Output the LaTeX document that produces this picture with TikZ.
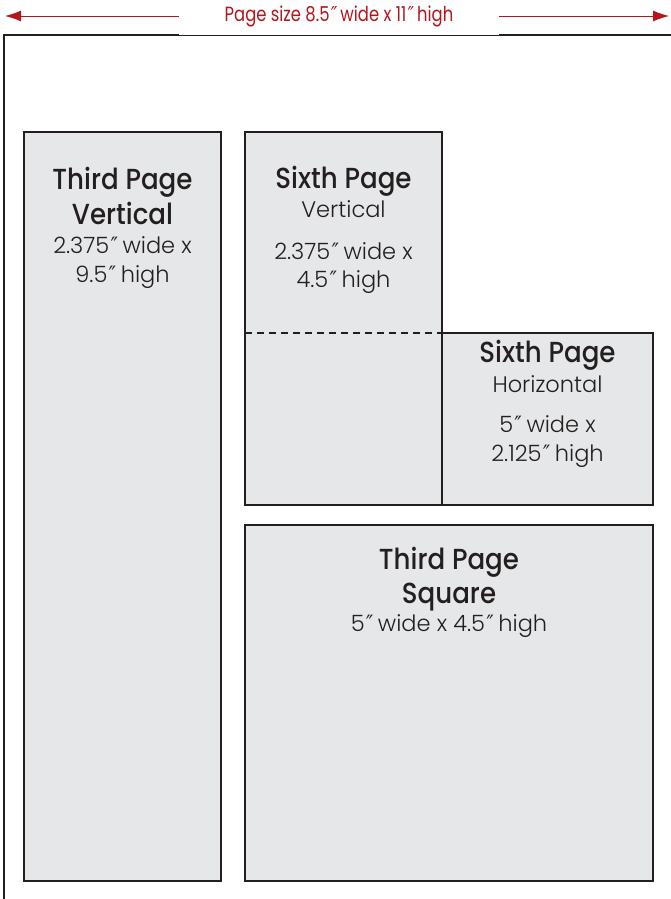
\documentclass[tikz,border=0pt]{standalone}
\usepackage{fontspec}
\setmainfont{Poppins}[UprightFont={* Light}]
\newfontfamily\titlefont{Poppins}[UprightFont={* Medium},FakeStretch=0.9]
\newfontfamily\sizefont{Poppins}[FakeStretch=0.8]
\newfontfamily\primefont{DejaVu Sans}[FakeStretch=0.85]
\newcommand{\inch}{{\primefont\addfontfeature{FakeSlant=0.1}″}}
\usetikzlibrary{arrows.meta}
\definecolor{sizered}{HTML}{B3161E}
\definecolor{adgray}{HTML}{E6E7E8}
\definecolor{adline}{HTML}{231F20}
\tikzset{
  adbox/.style={draw=adline,fill=adgray,line width=2pt},
  adtitle/.style={font=\titlefont\fontsize{29}{29}\selectfont,text=adline,inner sep=0pt,anchor=base},
  adtext/.style={font=\fontsize{22.5}{22.5}\selectfont,text=adline,inner sep=0pt,anchor=base},
  sizearrow/.style={draw=sizered,line width=0.9pt,-{Latex[length=16pt,width=11pt]}}
}
\begin{document}
\begin{tikzpicture}[x=1pt,y=-1pt]
\useasboundingbox (0,0) rectangle (670,899);
% page outline and size label
\draw[adline,line width=2.6pt] (4,905) -- (4,35) -- (675,35);
\node[fill=white,text=sizered,font=\sizefont\fontsize{20.5}{20.5}\selectfont,minimum width=320pt,minimum height=38pt,inner sep=0pt] (pagesize) at (339,16) {Page size 8.5\inch{} wide x 11\inch{} high};
\coordinate (pageleft) at (5,16);
\coordinate (pageright) at (669,16);
\draw[sizearrow] (pagesize.west) -- (pageleft);
\draw[sizearrow] (pagesize.east) -- (pageright);
% ad boxes
\draw[adbox] (24,132) rectangle (221,881);
\draw[adbox] (245,132) rectangle (442,505);
\draw[adbox] (442,333) rectangle (653,505);
\draw[adline,line width=2pt,dash pattern=on 7pt off 5pt] (245,333) -- (442,333);
\draw[adbox] (245,525) rectangle (653,881);
% third page vertical
\foreach \y/\t in {189/Third Page,224/Vertical}
  \node[adtitle] (tpv\y) at (122.5,\y) {\t};
\foreach \y/\t in {253/2.375\inch{} wide x,282/9.5\inch{} high}
  \node[adtext] (tpv\y) at (122.5,\y) {\t};
% sixth page vertical
\node[adtitle] (spv) at (343.5,188) {Sixth Page};
\foreach \y/\t in {217/Vertical,259/2.375\inch{} wide x,287/4.5\inch{} high}
  \node[adtext] (spv\y) at (343.5,\y) {\t};
% sixth page horizontal
\node[adtitle] (sph) at (547.5,362) {Sixth Page};
\foreach \y/\t in {392/Horizontal,432/5\inch{} wide x,461/2.125\inch{} high}
  \node[adtext] (sph\y) at (547.5,\y) {\t};
% third page square
\foreach \y/\t in {569/Third Page,603/Square}
  \node[adtitle] (tps\y) at (449,\y) {\t};
\node[adtext] (tps) at (449,631) {5\inch{} wide x 4.5\inch{} high};
\end{tikzpicture}
\end{document}
